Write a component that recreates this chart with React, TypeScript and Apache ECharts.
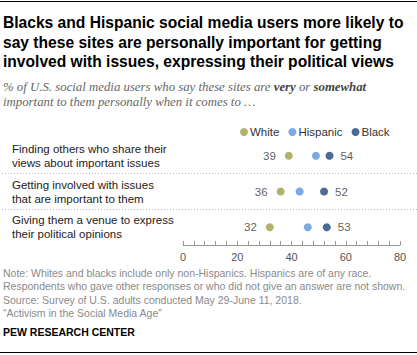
import React, { useEffect, useRef } from "react";
import * as echarts from "echarts";

const categories = [
  "Finding others who share their\nviews about important issues",
  "Getting involved with issues\nthat are important to them",
  "Giving them a venue to express\ntheir political opinions",
];
const white = [39, 36, 32];
const hispanic = [49, 43, 46];
const black = [54, 52, 53];
const xTicks = [0, 20, 40, 60, 80];

const titleLines = [
  "Blacks and Hispanic social media users more likely to",
  "say these sites are personally important for getting",
  "involved with issues, expressing their political views",
];
const noteLines = [
  "Note: Whites and blacks include only non-Hispanics. Hispanics are of any race.",
  "Respondents who gave other responses or who did not give an answer are not shown.",
  "Source: Survey of U.S. adults conducted May 29-June 11, 2018.",
  "\u201cActivism in the Social Media Age\u201d",
];

const C_WHITE = "#9ca04a";
const C_HISP = "#5b95d8";
const C_BLACK = "#1f4679";
const FONT = "'Liberation Sans', Arial, sans-serif";
const SERIF = "'Liberation Serif', Georgia, serif";

export default function App() {
  const ref = useRef<HTMLDivElement>(null);
  useEffect(() => {
    if (!ref.current) return;
    const chart = echarts.init(ref.current, undefined, { renderer: "svg" });
    const dot = (name: string, data: number[], color: string, pos: string | null, dist: number) => ({
      name,
      type: "scatter",
      data: data.map((v, i) => [v, i]),
      symbol: "circle",
      symbolSize: 8,
      itemStyle: { color },
      label: pos
        ? {
            show: true,
            position: pos,
            distance: dist,
            formatter: (p: any) => String(p.value[0]),
            color: "#333",
            fontSize: 11.5,
            fontFamily: FONT,
          }
        : { show: false },
      z: 3,
    });
    chart.setOption({
      animation: false,
      textStyle: { fontFamily: FONT },
      title: [
        {
          text: titleLines.join("\n"),
          left: 3,
          top: 13,
          padding: 0,
          textStyle: { fontFamily: FONT, fontWeight: "bold", fontSize: 15.6, lineHeight: 19.5, color: "#000" },
        },
        {
          text: "{n|% of U.S. social media users who say these sites are }{b|very}{n| or }{b|somewhat}\n{n|important to them personally when it comes to \u2026}",
          left: 3,
          top: 79,
          padding: 0,
          textStyle: {
            fontWeight: "normal",
            rich: {
              n: { fontFamily: SERIF, fontStyle: "italic", fontWeight: "normal", fontSize: 12.8, color: "#666", lineHeight: 15 },
              b: { fontFamily: SERIF, fontStyle: "italic", fontWeight: "bold", fontSize: 12.8, color: "#444", lineHeight: 15 },
            },
          },
        },
        {
          text: noteLines.join("\n"),
          left: 3,
          top: 266,
          padding: 0,
          textStyle: { fontFamily: FONT, fontWeight: "normal", fontSize: 10.5, lineHeight: 13.4, color: "#8a8a8a" },
        },
        {
          text: "PEW RESEARCH CENTER",
          left: 3,
          top: 326,
          padding: 0,
          textStyle: { fontFamily: FONT, fontWeight: "bold", fontSize: 10.5, color: "#000" },
        },
      ],
      legend: {
        left: 240,
        top: 126,
        itemWidth: 8,
        itemHeight: 8,
        itemGap: 9,
        padding: 0,
        icon: "circle",
        textStyle: { fontSize: 11.5, color: "#333", fontFamily: FONT, padding: [0, 0, 0, -3] },
        data: ["White", "Hispanic", "Black"],
      },
      graphic: [
        { type: "line", shape: { x1: 0, y1: 1.5, x2: 417, y2: 1.5 }, style: { stroke: "#000", lineWidth: 1 } },
        { type: "line", shape: { x1: 0, y1: 352.5, x2: 417, y2: 352.5 }, style: { stroke: "#000", lineWidth: 1 } },
      ],
      grid: [
        { left: 183, right: 17, top: 138, height: 107, containLabel: false },
        { left: 2, right: 0, top: 138, height: 107, containLabel: false },
      ],
      xAxis: [
        {
          type: "value",
          gridIndex: 0,
          min: 0,
          max: 80,
          interval: 4,
          axisLine: { show: true, lineStyle: { color: "#999" } },
          axisTick: { show: true, inside: true, length: 4, lineStyle: { color: "#999" } },
          splitLine: { show: false },
          axisLabel: {
            color: "#555",
            fontSize: 11,
            margin: 6,
            formatter: (v: number) => (xTicks.includes(v) ? String(v) : ""),
          },
        },
        { type: "value", gridIndex: 1, show: false, min: 0, max: 1 },
      ],
      yAxis: [
        {
          type: "category",
          gridIndex: 0,
          inverse: true,
          data: categories,
          axisLine: { show: false },
          axisTick: { show: false },
          axisLabel: {
            align: "left",
            margin: 171,
            color: "#222",
            fontSize: 11.5,
            lineHeight: 14,
          },
        },
        {
          type: "category",
          gridIndex: 1,
          inverse: true,
          data: categories,
          axisLine: { show: false },
          axisTick: { show: false },
          axisLabel: { show: false },
          splitLine: {
            show: true,
            showMinLine: false,
            showMaxLine: false,
            lineStyle: { color: "#bbbbbb", type: [1, 2], width: 1 },
          },
        },
      ],
      series: [
        dot("White", white, C_WHITE, "left", 9),
        dot("Hispanic", hispanic, C_HISP, null, 0),
        dot("Black", black, C_BLACK, "right", 7),
      ],
    });
    return () => chart.dispose();
  }, []);
  return <div ref={ref} style={{ position: "absolute", left: 0, top: 0, width: 417, height: 355 }} />;
}
